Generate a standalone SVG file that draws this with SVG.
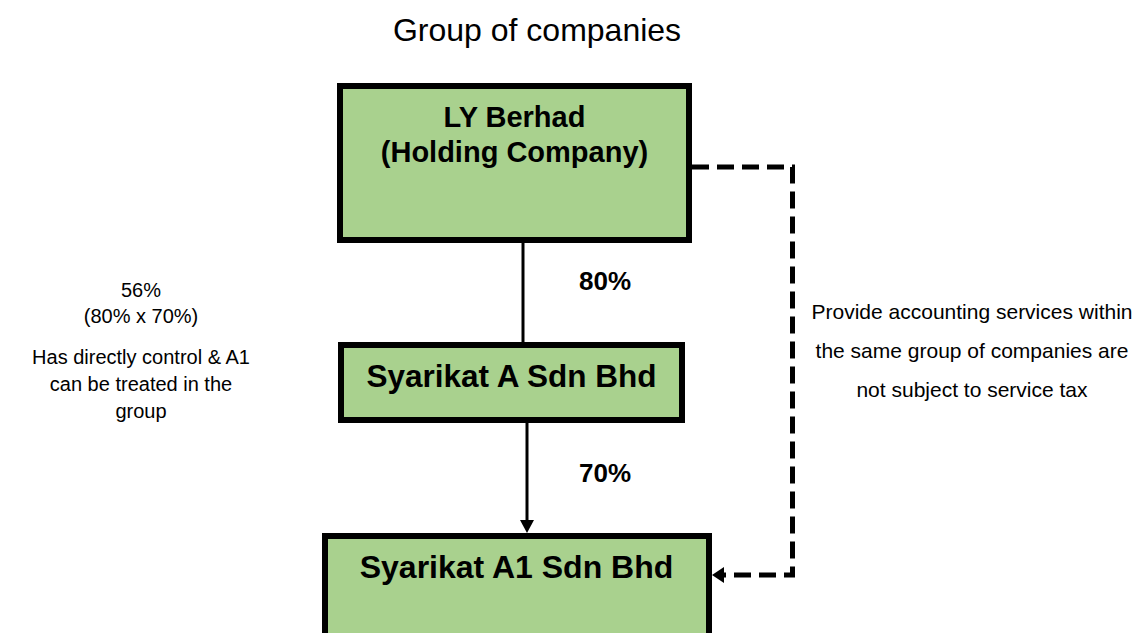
<svg xmlns="http://www.w3.org/2000/svg" width="1147" height="633" viewBox="0 0 1147 633">
  <style>
    .box { fill: #A9D18E; stroke: #000; stroke-width: 6; }
    .name { font-family: "Liberation Sans", Arial, sans-serif; font-weight: bold; fill: #000; text-anchor: middle; }
    .note { font-family: "Liberation Sans", Arial, sans-serif; fill: #000; text-anchor: middle; font-size: 21px; }
    .side { font-size: 20px; }
    .pct { font-family: "Liberation Sans", Arial, sans-serif; font-weight: bold; fill: #000; text-anchor: middle; font-size: 26px; }
    .link { fill: none; stroke: #000; stroke-width: 3; }
    .dash { fill: none; stroke: #000; stroke-width: 5; stroke-dasharray: 17 8; }
  </style>
  <rect width="1147" height="633" fill="#fff"/>

  <text class="note" x="537" y="41" style="font-size:32px">Group of companies</text>

  <!-- ownership and service connectors -->
  <g id="connectors">
    <line class="link" x1="523" y1="243" x2="523" y2="342"/>
    <line class="link" x1="527" y1="423" x2="527" y2="521"/>
    <polygon points="520,520 534,520 527,533" fill="#000"/>
    <path class="dash" d="M692 167 H792.5 V575 H724"/>
    <polygon points="712,575 724,567 724,583" fill="#000"/>
    <text class="pct" x="605" y="290">80%</text>
    <text class="pct" x="605" y="482">70%</text>
  </g>

  <g id="ly-berhad">
    <rect class="box" x="340" y="86" width="349" height="154"/>
    <text class="name" x="514.5" y="127" font-size="29">LY Berhad</text>
    <text class="name" x="514.5" y="162" font-size="29">(Holding Company)</text>
  </g>

  <g id="syarikat-a">
    <rect class="box" x="341" y="345" width="341" height="75"/>
    <text class="name" x="511.5" y="387" font-size="31.5">Syarikat A Sdn Bhd</text>
  </g>

  <g id="syarikat-a1">
    <rect class="box" x="325" y="536" width="384" height="120"/>
    <text class="name" x="516.5" y="578" font-size="32">Syarikat A1 Sdn Bhd</text>
  </g>

  <g id="effective-interest">
    <text class="note side" x="141" y="297">56%</text>
    <text class="note side" x="141" y="323">(80% x 70%)</text>
    <text class="note side" x="141" y="364">Has directly control &amp; A1</text>
    <text class="note side" x="141" y="391">can be treated in the</text>
    <text class="note side" x="141" y="418">group</text>
  </g>

  <g id="service-note">
    <text class="note" x="972" y="319">Provide accounting services within</text>
    <text class="note" x="972" y="358">the same group of companies are</text>
    <text class="note" x="972" y="397">not subject to service tax</text>
  </g>
</svg>
